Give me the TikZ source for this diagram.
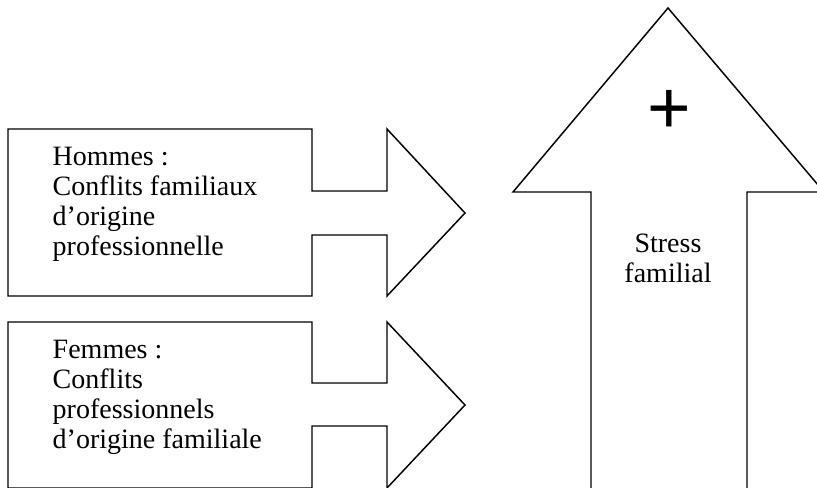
\documentclass[tikz,border=0pt]{standalone}
\usepackage{fontspec}
\setmainfont{Liberation Serif}
\newfontfamily\plusfont{Liberation Sans}
\usetikzlibrary{calc}

\begin{document}
\begin{tikzpicture}[x=0.75pt,y=-0.75pt,line width=1.1pt,
  txt/.style={font=\fontsize{21}{22.6}\selectfont, align=left, inner sep=0pt}]
\useasboundingbox (0,0) rectangle (817,487);
\clip (0,0) rectangle (817,487);

% fleche hommes
\coordinate (H1) at (8,129);
\coordinate (H2) at (312,129);
\coordinate (H3) at (312,191);
\coordinate (H4) at (387,191);
\coordinate (H5) at (387,129);
\coordinate (H6) at (465,213);
\coordinate (H7) at (387,296);
\coordinate (H8) at (387,235);
\coordinate (H9) at (312,235);
\coordinate (H10) at (312,296);
\coordinate (H11) at (8,296);

\draw (H1) -- (H2) -- (H3) -- (H4) -- (H5) -- (H6) -- (H7) -- (H8) -- (H9) -- (H10) -- (H11) -- cycle;

% fleche femmes
\coordinate (F1) at (8,322);
\coordinate (F2) at (312,322);
\coordinate (F3) at (312,383);
\coordinate (F4) at (387,383);
\coordinate (F5) at (387,322);
\coordinate (F6) at (465,405);
\coordinate (F7) at (387,488);
\coordinate (F8) at (387,426);
\coordinate (F9) at (312,426);
\coordinate (F10) at (312,488);
\coordinate (F11) at (8,488);

\draw (F1) -- (F2) -- (F3) -- (F4) -- (F5) -- (F6) -- (F7) -- (F8) -- (F9) -- (F10) -- (F11) -- cycle;

% fleche stress
\coordinate (S1) at (591,500);
\coordinate (S2) at (591,192);
\coordinate (S3) at (513,192);
\coordinate (S4) at (668,8);
\coordinate (S5) at (824,192);
\coordinate (S6) at (747,192);
\coordinate (S7) at (747,500);

\draw (S1) -- (S2) -- (S3) -- (S4) -- (S5) -- (S6) -- (S7);

\node[txt, anchor=north west] (hommes) at (52,146.5) {Hommes :\\Conflits familiaux\\d’origine\\professionnelle};
\node[txt, anchor=north west] (femmes) at (52,339.5) {Femmes :\\Conflits\\professionnels\\d’origine familiale};
\node[txt, align=center, anchor=north] (stress) at (668,233) {Stress\\familial};
\node[font=\plusfont\fontsize{56}{56}\selectfont, inner sep=0pt] (plus) at (669,112) {+};
\end{tikzpicture}
\end{document}
